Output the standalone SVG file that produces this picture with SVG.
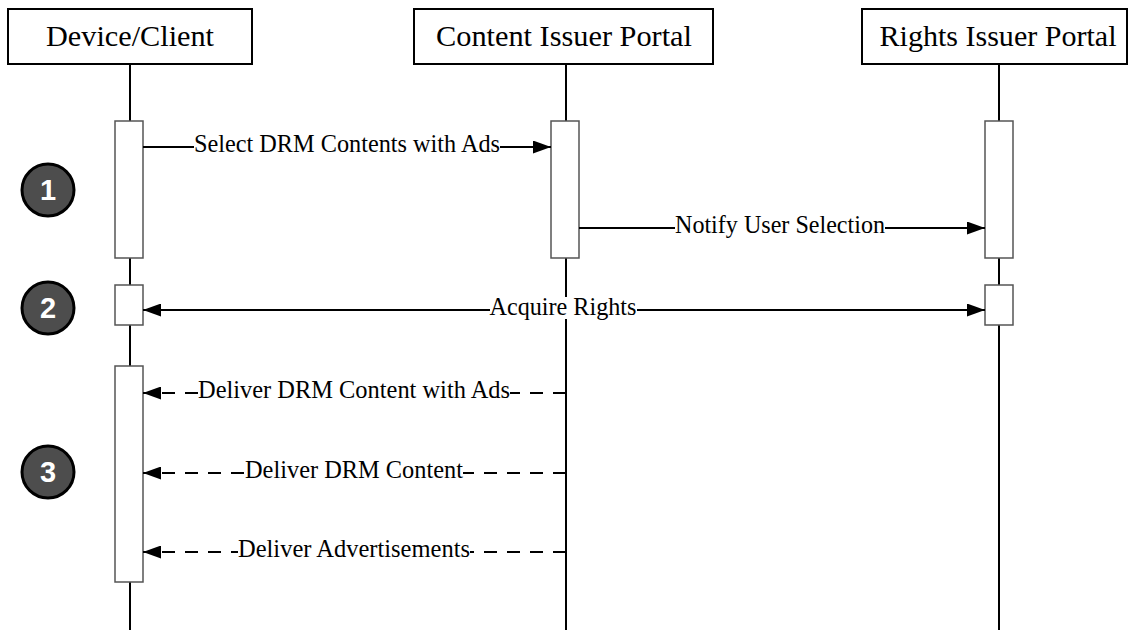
<svg xmlns="http://www.w3.org/2000/svg" width="1130" height="630" viewBox="0 0 1130 630">
<style>
.hdr{fill:#fff;stroke:#000;stroke-width:2}
.ht{font-family:"Liberation Serif",serif;font-size:29px;fill:#000;text-anchor:middle}
.life{stroke:#000;stroke-width:2}
.act{fill:#fff;stroke:#555;stroke-width:1.5}
.msg{stroke:#000;stroke-width:2;fill:none}
.dash{stroke-dasharray:13 10}
.lt{font-family:"Liberation Serif",serif;font-size:25px;fill:#000;text-anchor:middle}
.bg{fill:#fff}
.step circle{fill:#4d4d4d;stroke:#000;stroke-width:3}
.step text{font-family:"Liberation Sans",Arial,sans-serif;font-weight:bold;font-size:29px;fill:#fff;text-anchor:middle}
</style>
<defs>
<marker id="ah" viewBox="0 0 18 13" refX="18" refY="6.5" markerWidth="18" markerHeight="13" markerUnits="userSpaceOnUse" orient="auto-start-reverse">
<path d="M0,0 L18,6.5 L0,13 Z" fill="#000"/>
</marker>
</defs>
<rect width="1130" height="630" fill="#fff"/>
<g id="lifelines">
<line class="life" x1="130" y1="64" x2="130" y2="630"/>
<line class="life" x1="566" y1="64" x2="566" y2="630"/>
<line class="life" x1="999" y1="64" x2="999" y2="630"/>
</g>
<g id="device-client">
<rect class="hdr" x="8" y="9" width="244" height="55"/>
<text class="ht" x="130" y="46" textLength="168" lengthAdjust="spacingAndGlyphs">Device/Client</text>
</g>
<g id="content-issuer">
<rect class="hdr" x="414" y="9" width="299" height="55"/>
<text class="ht" x="564" y="46" textLength="256" lengthAdjust="spacingAndGlyphs">Content Issuer Portal</text>
</g>
<g id="rights-issuer">
<rect class="hdr" x="862" y="9" width="265" height="55"/>
<text class="ht" x="998" y="46" textLength="237" lengthAdjust="spacingAndGlyphs">Rights Issuer Portal</text>
</g>
<g id="activations">
<rect class="act" x="115" y="121" width="28" height="137"/>
<rect class="act" x="551" y="121" width="28" height="137"/>
<rect class="act" x="985" y="121" width="28" height="137"/>
<rect class="act" x="115" y="285" width="28" height="40"/>
<rect class="act" x="985" y="285" width="28" height="40"/>
<rect class="act" x="115" y="366" width="28" height="216"/>
</g>
<g id="connectors">
<line class="msg" x1="143" y1="147" x2="551" y2="147" marker-end="url(#ah)"/>
<line class="msg" x1="579" y1="228" x2="985" y2="228" marker-end="url(#ah)"/>
<line class="msg" x1="143" y1="310" x2="985" y2="310" marker-start="url(#ah)" marker-end="url(#ah)"/>
<line class="msg dash" x1="566" y1="393" x2="143" y2="393" marker-end="url(#ah)"/>
<line class="msg dash" x1="566" y1="473" x2="143" y2="473" marker-end="url(#ah)"/>
<line class="msg dash" x1="566" y1="552" x2="143" y2="552" marker-end="url(#ah)"/>
</g>
<g id="labels">
<rect class="bg" x="194" y="134" width="306" height="22"/>
<text class="lt" x="347" y="152" textLength="306" lengthAdjust="spacingAndGlyphs">Select DRM Contents with Ads</text>
<rect class="bg" x="675" y="215" width="210" height="22"/>
<text class="lt" x="780" y="233" textLength="210" lengthAdjust="spacingAndGlyphs">Notify User Selection</text>
<rect class="bg" x="490" y="297" width="147" height="22"/>
<text class="lt" x="563" y="315" textLength="147" lengthAdjust="spacingAndGlyphs">Acquire Rights</text>
<rect class="bg" x="198" y="380" width="312" height="22"/>
<text class="lt" x="354" y="398" textLength="312" lengthAdjust="spacingAndGlyphs">Deliver DRM Content with Ads</text>
<rect class="bg" x="245" y="460" width="218" height="22"/>
<text class="lt" x="354" y="478" textLength="218" lengthAdjust="spacingAndGlyphs">Deliver DRM Content</text>
<rect class="bg" x="238" y="539" width="232" height="22"/>
<text class="lt" x="354" y="557" textLength="232" lengthAdjust="spacingAndGlyphs">Deliver Advertisements</text>
</g>
<g id="step1" class="step">
<circle cx="48" cy="190" r="26"/>
<text x="48" y="200">1</text>
</g>
<g id="step2" class="step">
<circle cx="48" cy="308" r="26"/>
<text x="48" y="318">2</text>
</g>
<g id="step3" class="step">
<circle cx="48" cy="472" r="26"/>
<text x="48" y="482">3</text>
</g>
</svg>
